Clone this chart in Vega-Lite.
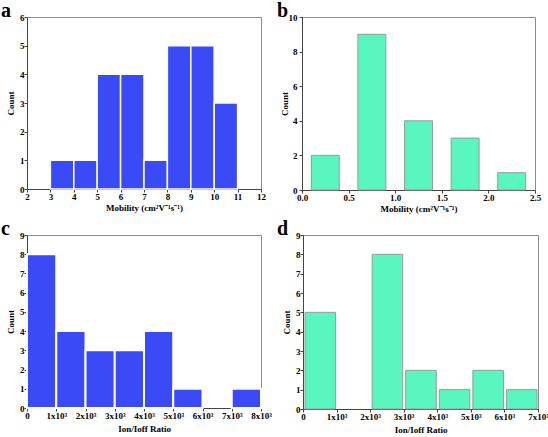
{
  "$schema": "https://vega.github.io/schema/vega-lite/v6.json",
  "padding": 0,
  "background": "white",
  "datasets": {
    "a": [
      {"start": 3, "end": 4, "count": 1},
      {"start": 4, "end": 5, "count": 1},
      {"start": 5, "end": 6, "count": 4},
      {"start": 6, "end": 7, "count": 4},
      {"start": 7, "end": 8, "count": 1},
      {"start": 8, "end": 9, "count": 5},
      {"start": 9, "end": 10, "count": 5},
      {"start": 10, "end": 11, "count": 3}
    ],
    "b": [
      {"start": 0.1, "end": 0.4, "count": 2},
      {"start": 0.6, "end": 0.9, "count": 9},
      {"start": 1.1, "end": 1.4, "count": 4},
      {"start": 1.6, "end": 1.9, "count": 3},
      {"start": 2.1, "end": 2.4, "count": 1}
    ],
    "c": [
      {"start": 0, "end": 1000, "count": 8},
      {"start": 1000, "end": 2000, "count": 4},
      {"start": 2000, "end": 3000, "count": 3},
      {"start": 3000, "end": 4000, "count": 3},
      {"start": 4000, "end": 5000, "count": 4},
      {"start": 5000, "end": 6000, "count": 1},
      {"start": 7000, "end": 8000, "count": 1}
    ],
    "d": [
      {"start": 0, "end": 1000, "count": 5},
      {"start": 2000, "end": 3000, "count": 8},
      {"start": 3000, "end": 4000, "count": 2},
      {"start": 4000, "end": 5000, "count": 1},
      {"start": 5000, "end": 6000, "count": 2},
      {"start": 6000, "end": 7000, "count": 1}
    ]
  },
  "config": {
    "view": {"stroke": "#8c8c8c", "strokeWidth": 1},
    "font": "Liberation Serif",
    "axis": {
      "grid": false,
      "labelFont": "Liberation Serif",
      "labelFontWeight": "bold",
      "labelFontSize": 9,
      "labelColor": "black",
      "titleFont": "Liberation Serif",
      "titleFontWeight": "bold",
      "titleFontSize": 9,
      "titleColor": "black",
      "domainColor": "#444444",
      "tickColor": "#444444",
      "tickSize": 3,
      "labelPadding": 0,
      "labelFlush": false,
      "labelOverlap": false
    },
    "title": {
      "font": "Liberation Serif",
      "fontSize": 20,
      "fontWeight": "bold",
      "anchor": "start",
      "frame": "bounds",
      "color": "black",
      "offset": -8
    }
  },
  "spacing": 4,
  "vconcat": [
    {
      "spacing": 10,
      "hconcat": [
        {
          "title": {"text": "a", "dx": -5},
          "width": 234,
          "height": 172,
          "view": {"stroke": "#8c8c8c"},
          "data": {"name": "a"},
          "mark": {"type": "bar", "color": "#3a4af6", "stroke": "white", "strokeWidth": 1.5},
          "encoding": {
            "x": {"field": "start", "type": "quantitative", "scale": {"domain": [2, 12], "nice": false},
                  "axis": {"values": [2,3,4,5,6,7,8,9,10,11,12], "title": "Mobility (cm²V⁻¹s⁻¹)", "titlePadding": 2}},
            "x2": {"field": "end"},
            "y": {"field": "count", "type": "quantitative", "scale": {"domain": [0, 6], "nice": false},
                  "axis": {"values": [0,1,2,3,4,5,6], "title": "Count", "minExtent": 10, "maxExtent": 10, "titlePadding": 2}},
            "y2": {"datum": 0}
          }
        },
        {
          "title": {"text": "b", "dx": -3},
          "width": 233,
          "height": 173,
          "view": {"stroke": "#8c8c8c"},
          "data": {"name": "b"},
          "mark": {"type": "bar", "color": "#5af6c0", "stroke": "#9a9a9a", "strokeWidth": 1},
          "encoding": {
            "x": {"field": "start", "type": "quantitative", "scale": {"domain": [0, 2.5], "nice": false},
                  "axis": {"values": [0, 0.5, 1, 1.5, 2, 2.5], "format": ".1f", "title": "Mobility (cm²V⁻¹s⁻¹)", "titlePadding": 2}},
            "x2": {"field": "end"},
            "y": {"field": "count", "type": "quantitative", "scale": {"domain": [0, 10], "nice": false},
                  "axis": {"values": [0,2,4,6,8,10], "title": "Count", "labelPadding": 2, "minExtent": 13, "maxExtent": 13, "titlePadding": 0}},
            "y2": {"datum": 0}
          }
        }
      ]
    },
    {
      "spacing": 4,
      "hconcat": [
        {
          "title": {"text": "c", "dx": -5},
          "width": 234,
          "height": 173,
          "view": {"stroke": "#8c8c8c"},
          "data": {"name": "c"},
          "mark": {"type": "bar", "color": "#3a4af6", "stroke": "white", "strokeWidth": 2},
          "encoding": {
            "x": {"field": "start", "type": "quantitative", "scale": {"domain": [0, 8000], "nice": false},
                  "axis": {"values": [0,1000,2000,3000,4000,5000,6000,7000,8000], "labelExpr": "datum.value == 0 ? '0' : (datum.value/1000) + 'x10³'", "title": "Ion/Ioff Ratio", "titlePadding": 4}},
            "x2": {"field": "end"},
            "y": {"field": "count", "type": "quantitative", "scale": {"domain": [0, 9], "nice": false},
                  "axis": {"values": [0,1,2,3,4,5,6,7,8,9], "title": "Count", "minExtent": 10, "maxExtent": 10, "titlePadding": 2}},
            "y2": {"datum": 0}
          }
        },
        {
          "title": {"text": "d", "dx": -5},
          "width": 235,
          "height": 174,
          "view": {"stroke": "#8c8c8c"},
          "data": {"name": "d"},
          "mark": {"type": "bar", "color": "#5af6c0", "stroke": "#9a9a9a", "strokeWidth": 1, "xOffset": 2, "x2Offset": -1},
          "encoding": {
            "x": {"field": "start", "type": "quantitative", "scale": {"domain": [0, 7000], "nice": false},
                  "axis": {"values": [0,1000,2000,3000,4000,5000,6000,7000], "labelExpr": "datum.value == 0 ? '0' : (datum.value/1000) + 'x10³'", "title": "Ion/Ioff Ratio", "titlePadding": 4}},
            "x2": {"field": "end"},
            "y": {"field": "count", "type": "quantitative", "scale": {"domain": [0, 9], "nice": false},
                  "axis": {"values": [0,1,2,3,4,5,6,7,8,9], "title": "Count", "minExtent": 10, "maxExtent": 10, "titlePadding": 2}},
            "y2": {"datum": 0}
          }
        }
      ]
    }
  ]
}
